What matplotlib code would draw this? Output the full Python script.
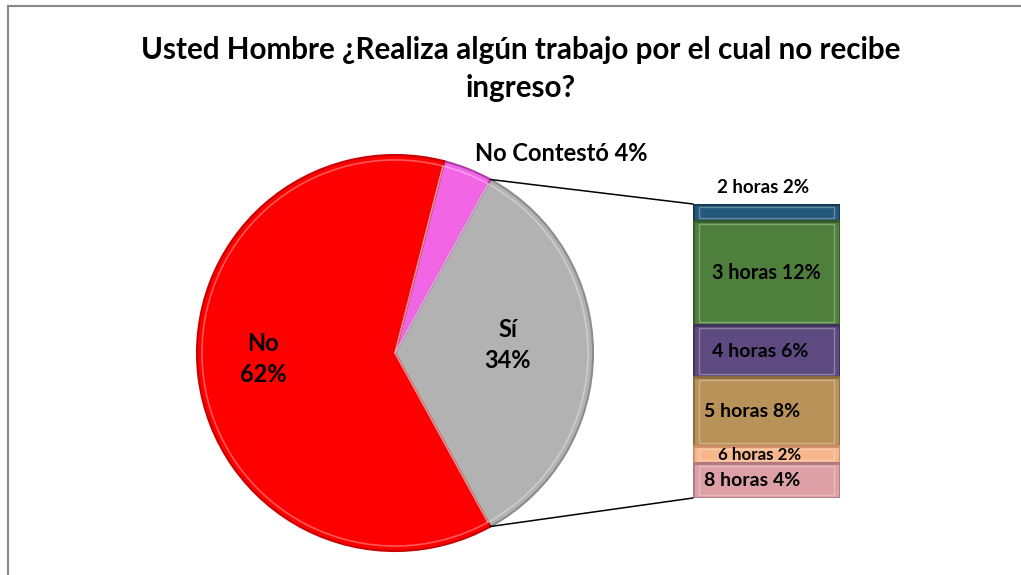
import numpy as np
import matplotlib
matplotlib.use("Agg")
import matplotlib.pyplot as plt
from matplotlib.patches import ConnectionPatch
from matplotlib.lines import Line2D

plt.rcParams['font.family'] = ['Lato', 'DejaVu Sans']

# pie data
pie_labels = ["Sí", "No Contestó", "No"]
pie_values = [34, 4, 62]
pie_colors = ["#B2B2B2", "#F266E6", "#FF0000"]
pie_edges = ["#8C8C8C", "#B03CA8", "#C80000"]

# breakdown of "Sí" (top to bottom)
hour_labels = ["2 horas", "3 horas", "4 horas", "5 horas", "6 horas", "8 horas"]
hour_values = [2, 12, 6, 8, 2, 4]
hour_colors = ["#24587A", "#4E7F3C", "#5D4A80", "#B89258", "#F7B68C", "#DDA0A6"]
hour_edges = ["#163A52", "#355C28", "#3E305A", "#8C6C3C", "#D08E68", "#B07880"]

W, H = 1021, 575
fig = plt.figure(figsize=(W / 100, H / 100), dpi=100)

# chart border (left and top only visible)
fig.add_artist(Line2D([8 / W, 8 / W], [0, 1 - 6 / H], color="#888888", lw=1.5))
fig.add_artist(Line2D([8 / W, 1], [1 - 6 / H, 1 - 6 / H], color="#888888", lw=1.5))

fig.text(521 / W, 1 - 50 / H,
         "Usted Hombre ¿Realiza algún trabajo por el cual no recibe",
         ha="center", va="center", fontsize=21.3, fontweight="bold")
fig.text(521 / W, 1 - 88 / H, "ingreso?",
         ha="center", va="center", fontsize=21.3, fontweight="bold")

# pie axes
cx, cy, r = 395, 353, 198
ax = fig.add_axes([(cx - r) / W, (H - cy - r) / H, 2 * r / W, 2 * r / H])
start = -360 * pie_values[0] / sum(pie_values) / 2
wedges, _ = ax.pie(pie_values, colors=pie_colors, startangle=start,
                   counterclock=True, radius=1,
                   wedgeprops=dict(linewidth=1.5))
for w, ec in zip(wedges, pie_edges):
    w.set_edgecolor(ec)
# soft bevel highlight inside each wedge
ax.pie(pie_values, colors=["none"] * 3, startangle=start, counterclock=True,
       radius=0.975, wedgeprops=dict(linewidth=1.2, edgecolor=(1, 1, 1, 0.35)))
ax.set_xlim(-1, 1)
ax.set_ylim(-1, 1)
ax.set_aspect("equal")
ax.axis("off")

ax.text(0.57, 0.04, "Sí\n34%", ha="center", va="center", fontsize=17,
        fontweight="bold", linespacing=1.45)
ax.text(-0.667, -0.03, "No\n62%", ha="center", va="center", fontsize=17,
        fontweight="bold", linespacing=1.45)
ax.text(0.84, 1.01, "No Contestó 4%", ha="center", va="center", fontsize=17,
        fontweight="bold")

# stacked bar axes
bx0, bx1, by0, by1 = 693, 840, 204, 498
bax = fig.add_axes([bx0 / W, (H - by1) / H, (bx1 - bx0) / W, (by1 - by0) / H])
total = sum(hour_values)
label_dx = {"2 horas": -0.02, "3 horas": 0.0, "4 horas": -0.045,
            "5 horas": -0.1, "6 horas": -0.045, "8 horas": -0.1}
label_fs = {"2 horas": 13.5, "3 horas": 14.2, "4 horas": 14,
            "5 horas": 14, "6 horas": 12.2, "8 horas": 14}
bottom = total
for lab, v, c, ec in zip(hour_labels, hour_values, hour_colors, hour_edges):
    bottom -= v
    bax.bar(0, v, bottom=bottom, width=1.0, color=c, edgecolor=ec, linewidth=2)
    # inner bevel frame
    bax.bar(0, v - 0.7, bottom=bottom + 0.35, width=0.92, color="none",
            edgecolor=(1, 1, 1, 0.3), linewidth=1)
    txt = f"{lab} {v}%"
    ty = bottom + v + 1.9 if lab == "2 horas" else bottom + v / 2
    bax.text(label_dx[lab], ty, txt, ha="center", va="center",
             fontsize=label_fs[lab], fontweight="bold")
bax.set_xlim(-0.5, 0.5)
bax.set_ylim(0, total)
bax.axis("off")

# connector lines from the "Sí" wedge to the bar
th1 = np.deg2rad(-start)
th2 = np.deg2rad(start)
for th, yb in [(th1, total), (th2, 0)]:
    con = ConnectionPatch(xyA=(np.cos(th), np.sin(th)), coordsA=ax.transData,
                          xyB=(-0.5, yb), coordsB=bax.transData,
                          color="black", lw=1.1)
    fig.add_artist(con)

fig.savefig("out.png", dpi=100)
